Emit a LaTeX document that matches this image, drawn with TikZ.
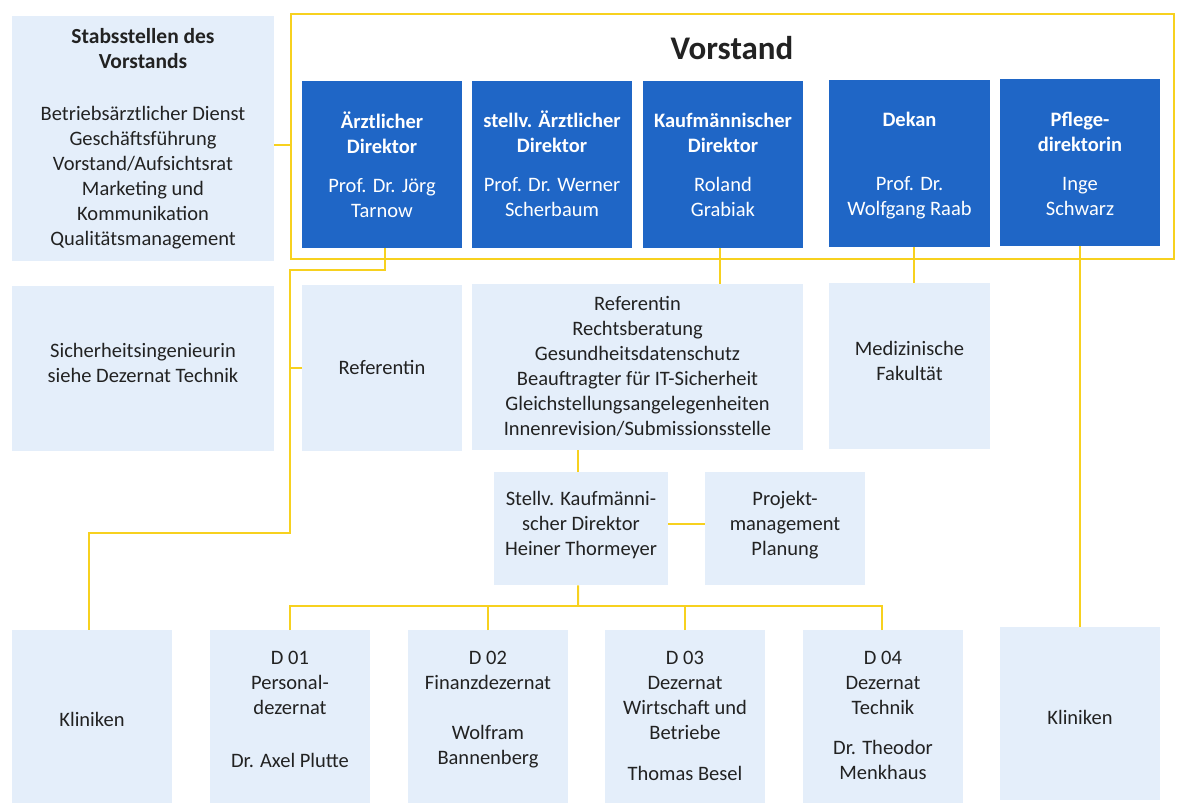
\documentclass[tikz,border=0pt]{standalone}
\usepackage{fontspec}
\setmainfont{Carlito}
\definecolor{vblue}{HTML}{1F66C6}
\definecolor{pale}{HTML}{E4EEFA}
\definecolor{gold}{HTML}{F7D11F}
\definecolor{ink}{HTML}{222222}
% box: style, name, left x, top y, width, height
\newcommand\orgbox[6]{\node[#1, minimum width=#5pt, minimum height=#6pt] (#2) at (#3,#4) {};}
\newcommand\headline[1]{{\fontsize{21.5}{25}\selectfont\bfseries\strut #1}}
\begin{document}
\begin{tikzpicture}[x=1pt,y=-1pt,
  pbox/.style={fill=pale, draw=none, inner sep=0pt, anchor=north west, rectangle},
  bbox/.style={fill=vblue, draw=none, inner sep=0pt, anchor=north west, rectangle},
  frame/.style={draw=gold, line width=2pt, fill=none, inner sep=0pt, anchor=north west, rectangle},
  txt/.style={inner sep=0pt, align=center, text=ink, yshift=-2pt, font=\fontsize{20.5}{25}\selectfont},
  wtxt/.style={txt, text=white},
  link/.style={draw=gold, line width=2pt},
]
\useasboundingbox (0,0) rectangle (1178,805);

% ---- boxes ----
\orgbox{pbox}{stab}{12}{16}{262}{245}
\orgbox{frame}{vorstand}{290}{13}{883}{245}
\orgbox{bbox}{aerztl}{302}{81}{160}{167}
\orgbox{bbox}{stellvae}{472}{81}{160}{167}
\orgbox{bbox}{kaufm}{643}{81}{160}{167}
\orgbox{bbox}{dekan}{829}{80}{161}{167}
\orgbox{bbox}{pflege}{1000}{79}{160}{167}

\orgbox{pbox}{sicher}{12}{286}{262}{165}
\orgbox{pbox}{ref}{302}{285}{160}{166}
\orgbox{pbox}{refbig}{472}{284}{331}{166}
\orgbox{pbox}{medfak}{829}{283}{161}{166}
\orgbox{pbox}{stellvk}{494}{472}{174}{113}
\orgbox{pbox}{projekt}{705}{472}{160}{113}

\orgbox{pbox}{klinL}{12}{630}{160}{173}
\orgbox{pbox}{dA}{210}{630}{160}{173}
\orgbox{pbox}{dB}{408}{630}{160}{173}
\orgbox{pbox}{dC}{605}{630}{160}{173}
\orgbox{pbox}{dD}{803}{630}{160}{173}
\orgbox{pbox}{klinR}{1000}{627}{160}{173}

% ---- texts ----
\node[txt] (t-stab) at (143,137.5) {\headline{Stabsstellen des}\\\headline{Vorstands}\\[27pt]
  \strut Betriebsärztlicher Dienst\\\strut Geschäftsführung\\\strut Vorstand/Aufsichtsrat\\
  \strut Marketing und\\\strut Kommunikation\\\strut Qualitätsmanagement};
\node[inner sep=0pt, anchor=base, text=ink, font=\fontsize{33}{38}\selectfont\bfseries] (t-vorstand) at (732,60) {Vorstand};

\node[wtxt] (t-aerztl) at (382,166.5) {\textbf{\strut Ärztlicher}\\\textbf{\strut Direktor}\\[14pt]\strut Prof. Dr. Jörg\\\strut Tarnow};
\node[wtxt] (t-stellvae) at (552,165.5) {\textbf{\strut stellv. Ärztlicher}\\\textbf{\strut Direktor}\\[14pt]\strut Prof. Dr. Werner\\\strut Scherbaum};
\node[wtxt] (t-kaufm) at (723,165.5) {\textbf{\strut Kaufmännischer}\\\textbf{\strut Direktor}\\[14pt]\strut Roland\\\strut Grabiak};
\node[wtxt] (t-dekan) at (909.5,164.5) {\textbf{\strut Dekan}\\[39pt]\strut Prof. Dr.\\\strut Wolfgang Raab};
\node[wtxt] (t-pflege) at (1080,164) {\textbf{\strut Pflege-}\\\textbf{\strut direktorin}\\[14pt]\strut Inge\\\strut Schwarz};

\node[txt] (t-sicher) at (143,363) {\strut Sicherheitsingenieurin\\\strut siehe Dezernat Technik};
\node[txt] (t-ref) at (382,367) {\strut Referentin};
\node[txt] (t-refbig) at (637.5,366) {\strut Referentin\\\strut Rechtsberatung\\\strut Gesundheitsdatenschutz\\
  \strut Beauftragter für IT-Sicherheit\\\strut Gleichstellungsangelegenheiten\\\strut Innenrevision/Submissionsstelle};
\node[txt] (t-medfak) at (909.5,360.5) {\strut Medizinische\\\strut Fakultät};
\node[txt] (t-stellvk) at (581,523) {\strut Stellv. Kaufmänni-\\\strut scher Direktor\\\strut Heiner Thormeyer};
\node[txt] (t-projekt) at (785,523) {\strut Projekt-\\\strut management\\\strut Planung};

\node[txt] (t-klinL) at (92,719) {\strut Kliniken};
\node[txt] (t-dA) at (290,708.5) {\strut D 01\\\strut Personal-\\\strut dezernat\\[28pt]\strut Dr. Axel Plutte};
\node[txt] (t-dB) at (488,707.5) {\strut D 02\\\strut Finanzdezernat\\[25pt]\strut Wolfram\\\strut Bannenberg};
\node[txt] (t-dC) at (685,715) {\strut D 03\\\strut Dezernat\\\strut Wirtschaft und\\\strut Betriebe\\[16pt]\strut Thomas Besel};
\node[txt] (t-dD) at (883,714.5) {\strut D 04\\\strut Dezernat\\\strut Technik\\[15pt]\strut Dr. Theodor\\\strut Menkhaus};
\node[txt] (t-klinR) at (1080,717) {\strut Kliniken};

% ---- connectors ----
\coordinate (jA) at (290,270);
\coordinate (jB) at (290,533);
\coordinate (bus) at (581,606);

\draw[link] ([yshift=-6.5pt]stab.east) -- ([yshift=-6.5pt]stab.east -| vorstand.west);
\draw[link] ([xshift=3pt]aerztl.south) |- (jA) -- (jB) -| ([xshift=-3pt]klinL.north);
\draw[link] (ref.west) -- (ref.west -| jA);
\draw[link] ([xshift=-3pt]kaufm.south) -- ([xshift=-3pt]kaufm.south |- refbig.north);
\draw[link] ([xshift=4pt]dekan.south) -- ([xshift=4pt]medfak.north);
\draw[link] (pflege.south) -- (klinR.north);
\draw[link] ([xshift=-3pt]stellvk.north) -- ([xshift=-3pt]stellvk.north |- refbig.south);
\draw[link] ([yshift=5pt]stellvk.east) -- ([yshift=5pt]projekt.west);
\draw[link] ([xshift=-3pt]stellvk.south) -- ([xshift=-3pt]bus);
\draw[link] (dA.north) |- ([xshift=-3pt]bus);
\draw[link] (dB.north) |- ([xshift=-3pt]bus);
\draw[link] (dC.north) |- ([xshift=-3pt]bus);
\draw[link] ([xshift=-1pt]dD.north) |- ([xshift=-3pt]bus);
\end{tikzpicture}
\end{document}
